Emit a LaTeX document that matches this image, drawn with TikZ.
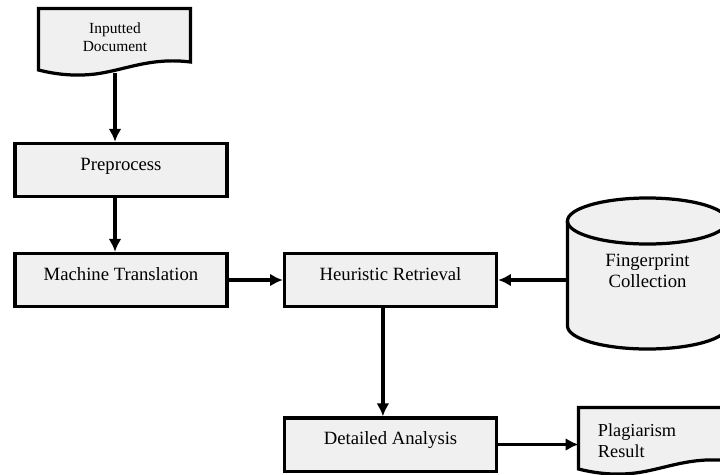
\documentclass[tikz,border=0pt]{standalone}
\usepackage{fontspec}
\setmainfont{Liberation Serif}
\usetikzlibrary{arrows.meta}

% document symbol with a wavy bottom, #1 = shift of its top left corner
\newcommand{\docshape}[1]{%
  \draw[outline,shift={#1}] (0,0) -- (152,0) -- (152,53.5)
    .. controls (112,48.5) and (87,61.5) .. (57,65.5)
    .. controls (32,68.5) and (12,64.5) .. (0,61.5) -- cycle;}

\begin{document}
\begin{tikzpicture}[x=0.025cm,y=-0.025cm]
    \tikzstyle{outline}=[draw,line width=2.3pt,fill=black!6]
    \tikzstyle{boxes}=[outline,minimum width=5.3cm,minimum height=1.33cm,
      text height=9pt,text depth=9pt,font=\fontsize{13.3}{16}\selectfont]
    \tikzstyle{vectors}=[line width=2.3pt,-{Latex[length=0.32cm,width=0.32cm]}]
    \useasboundingbox (0,0) rectangle (720,474);
    \clip (0,0) rectangle (720,474);

    % input document
    \docshape{(38.5,8.5)}
    \node[align=center,font=\fontsize{11}{12.8}\selectfont] (indoc) at (115,37) {Inputted\\Document};
    \coordinate (indoc-b) at (115,73);

    % processing boxes
    \node[boxes] (pre) at (121,170) {Preprocess};
    \node[boxes] (mt) at (121,280) {Machine Translation};
    \node[boxes] (hr) at (390.5,280) {Heuristic Retrieval};
    \node[boxes] (da) at (390.5,444.5) {Detailed Analysis};

    % fingerprint database
    \draw[outline] (567.5,221) -- (567.5,326)
      arc[start angle=180,end angle=360,x radius=2cm,y radius=0.575cm] -- (727.5,221)
      arc[start angle=0,end angle=180,x radius=2cm,y radius=0.575cm] -- cycle;
    \draw[line width=2.3pt] (567.5,221) arc[start angle=180,end angle=360,x radius=2cm,y radius=0.575cm];
    \node[align=center,minimum width=4cm,font=\fontsize{13.3}{15}\selectfont] (fpc) at (647.5,270.5) {Fingerprint\\Collection};

    % result document
    \docshape{(578.5,407.5)}
    \node[align=left,anchor=west,font=\fontsize{13}{15}\selectfont] (plag) at (593,441) {Plagiarism\\Result};
    \coordinate (plag-w) at (578.5,444.5);

    \draw[vectors] (indoc-b) -- (pre.north -| indoc-b);
    \draw[vectors] (pre.south -| indoc-b) -- (mt.north -| indoc-b);
    \draw[vectors] (mt.east) -- (hr.west);
    \draw[vectors] (fpc.west |- hr.east) -- (hr.east);
    \draw[vectors] ([xshift=-0.19cm]hr.south) -- ([xshift=-0.19cm]da.north);
    \draw[vectors] (da.east) -- (plag-w);

\end{tikzpicture}
\end{document}
